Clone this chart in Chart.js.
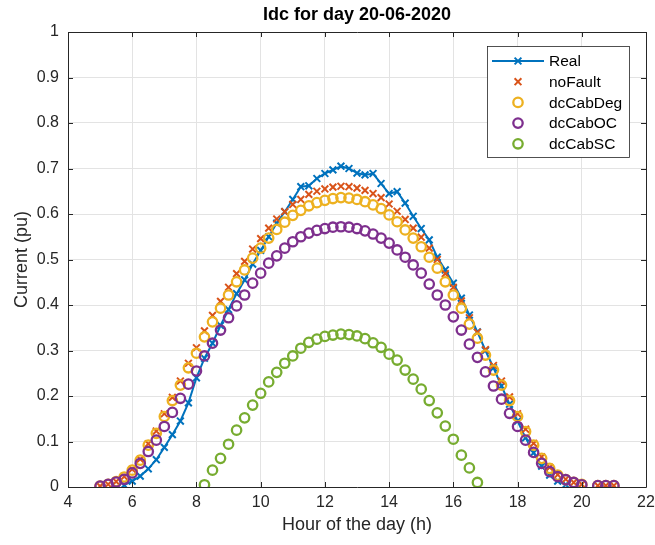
<!DOCTYPE html>
<html>
<head>
<meta charset="utf-8">
<script src="https://cdn.jsdelivr.net/npm/chart.js@4.4.0/dist/chart.umd.min.js"></script>
<style>
  html, body { margin: 0; padding: 0; background: #fff; }
  #wrap { width: 655px; height: 545px; }
</style>
</head>
<body>
<div id="wrap"><canvas id="chart" width="655" height="545"></canvas></div>
<script>
// hour of the day, 15 min steps
const hours = [
  5, 5.25, 5.5, 5.75, 6, 6.25, 6.5, 6.75, 7, 7.25, 7.5, 7.75,
  8, 8.25, 8.5, 8.75, 9, 9.25, 9.5, 9.75, 10, 10.25, 10.5, 10.75,
  11, 11.25, 11.5, 11.75, 12, 12.25, 12.5, 12.75, 13, 13.25, 13.5, 13.75,
  14, 14.25, 14.5, 14.75, 15, 15.25, 15.5, 15.75, 16, 16.25, 16.5, 16.75,
  17, 17.25, 17.5, 17.75, 18, 18.25, 18.5, 18.75, 19, 19.25, 19.5, 19.75,
  20, 20.25, 20.5, 20.75, 21
];

const real = [
  null, null, null, 0.004, 0.013, 0.024, 0.040, 0.060, 0.087, 0.115, 0.145, 0.185,
  0.240, 0.283, 0.316, 0.355, 0.390, 0.425, 0.455, 0.490, 0.520, 0.550, 0.580, 0.605,
  0.632, 0.660, 0.662, 0.678, 0.689, 0.697, 0.705, 0.700, 0.690, 0.686, 0.689, 0.667,
  0.645, 0.649, 0.624, 0.595, 0.568, 0.543, 0.505, 0.477, 0.448, 0.415, 0.378, 0.341,
  0.300, 0.262, 0.222, 0.182, 0.145, 0.108, 0.075, 0.046, 0.026, 0.013, 0.005, null,
  null, null, null, null, null
];

const noFault = [
  0.002, 0.006, 0.012, 0.023, 0.039, 0.061, 0.095, 0.123, 0.161, 0.197, 0.233, 0.272,
  0.306, 0.343, 0.377, 0.408, 0.439, 0.469, 0.496, 0.523, 0.546, 0.569, 0.589, 0.605,
  0.621, 0.632, 0.643, 0.650, 0.655, 0.659, 0.661, 0.660, 0.657, 0.652, 0.645, 0.636,
  0.622, 0.606, 0.588, 0.569, 0.549, 0.525, 0.500, 0.469, 0.439, 0.409, 0.372, 0.340,
  0.302, 0.267, 0.233, 0.198, 0.161, 0.127, 0.096, 0.066, 0.043, 0.027, 0.017, 0.010,
  0.006, null, 0.003, 0.003, 0.003
];

const dcCabDeg = [
  0.002, 0.006, 0.012, 0.022, 0.037, 0.059, 0.092, 0.118, 0.155, 0.190, 0.224, 0.262,
  0.294, 0.330, 0.363, 0.393, 0.422, 0.451, 0.477, 0.503, 0.525, 0.547, 0.566, 0.582,
  0.597, 0.608, 0.618, 0.625, 0.630, 0.634, 0.636, 0.635, 0.632, 0.627, 0.620, 0.612,
  0.598, 0.583, 0.565, 0.547, 0.528, 0.505, 0.481, 0.451, 0.422, 0.393, 0.358, 0.327,
  0.290, 0.257, 0.224, 0.190, 0.155, 0.122, 0.092, 0.063, 0.041, 0.026, 0.016, 0.010,
  0.006, null, 0.003, 0.003, 0.003
];

const dcCabOC = [
  0.002, 0.006, 0.011, 0.017, 0.031, 0.052, 0.078, 0.103, 0.133, 0.164, 0.195, 0.226,
  0.255, 0.288, 0.316, 0.345, 0.372, 0.398, 0.422, 0.448, 0.470, 0.492, 0.508, 0.525,
  0.539, 0.550, 0.558, 0.564, 0.568, 0.571, 0.572, 0.571, 0.568, 0.563, 0.556, 0.547,
  0.536, 0.521, 0.505, 0.488, 0.470, 0.446, 0.422, 0.400, 0.374, 0.345, 0.314, 0.285,
  0.253, 0.222, 0.193, 0.162, 0.133, 0.103, 0.076, 0.052, 0.034, 0.023, 0.016, 0.010,
  0.005, null, 0.003, 0.003, 0.003
];

const dcCabSC = [
  null, null, null, null, null, null, null, null, null, null, null, null,
  null, 0.005, 0.037, 0.063, 0.094, 0.125, 0.152, 0.180, 0.206, 0.231, 0.252, 0.272,
  0.288, 0.305, 0.318, 0.325, 0.331, 0.334, 0.336, 0.335, 0.332, 0.326, 0.317, 0.307,
  0.292, 0.279, 0.257, 0.237, 0.215, 0.190, 0.163, 0.134, 0.105, 0.070, 0.042, 0.010,
  null, null, null, null, null, null, null, null, null, null, null, null,
  null, null, null, null, null
];

const xTicks = [4, 6, 8, 10, 12, 14, 16, 18, 20, 22];
const yTicks = [0, 0.1, 0.2, 0.3, 0.4, 0.5, 0.6, 0.7, 0.8, 0.9, 1];

const titleText = 'Idc for day 20-06-2020';
const xLabel = 'Hour of the day (h)';
const yLabel = 'Current (pu)';

const INK = '#262626';
const GRID = '#e3e3e3';
const FONT = '"Liberation Sans", Arial, Helvetica, sans-serif';
const COLORS = {
  real: '#0072BD',
  noFault: '#D95319',
  deg: '#EDB120',
  oc: '#7E2F8E',
  sc: '#77AC30'
};

function toPoints(values) {
  return hours.map((h, i) => ({ x: h, y: values[i] }));
}

function markerSet(label, values, color, style, order) {
  return {
    label,
    data: toPoints(values),
    showLine: false,
    pointStyle: style,
    pointRadius: style === 'circle' ? 4.7 : 4.8,
    pointBorderWidth: style === 'circle' ? 2.3 : 2,
    pointBorderColor: color,
    pointBackgroundColor: 'rgba(0,0,0,0)',
    borderColor: color,
    backgroundColor: 'rgba(0,0,0,0)',
    order
  };
}

// axes box, inward ticks, title and legend in MATLAB style
const matlabLook = {
  id: 'matlabLook',
  afterDraw(chart) {
    const { ctx, chartArea: a, scales } = chart;
    ctx.save();

    ctx.strokeStyle = INK;
    ctx.lineWidth = 1;
    ctx.beginPath();
    ctx.rect(Math.round(a.left) + 0.5, Math.round(a.top) + 0.5,
             Math.round(a.right - a.left), Math.round(a.bottom - a.top));
    ctx.stroke();

    const tl = 5;
    ctx.beginPath();
    xTicks.forEach(v => {
      const px = Math.round(scales.x.getPixelForValue(v)) + 0.5;
      ctx.moveTo(px, a.bottom); ctx.lineTo(px, a.bottom - tl);
      ctx.moveTo(px, a.top); ctx.lineTo(px, a.top + tl);
    });
    yTicks.forEach(v => {
      const py = Math.round(scales.y.getPixelForValue(v)) + 0.5;
      ctx.moveTo(a.left, py); ctx.lineTo(a.left + tl, py);
      ctx.moveTo(a.right, py); ctx.lineTo(a.right - tl, py);
    });
    ctx.stroke();

    // title
    ctx.fillStyle = '#000';
    ctx.font = 'bold 18px ' + FONT;
    ctx.textAlign = 'center';
    ctx.textBaseline = 'middle';
    ctx.fillText(titleText, (a.left + a.right) / 2, 15);

    // legend, sized to its texts
    ctx.font = '15.5px ' + FONT;
    const textX = 549;
    const maxW = Math.max(...chart.data.datasets.map(d => ctx.measureText(d.label).width));
    const lx = 487.5, ly = 46.5, lh = 111;
    const lw = Math.round(textX + maxW + 7 - lx);
    ctx.fillStyle = '#fff';
    ctx.fillRect(lx, ly, lw, lh);
    ctx.strokeStyle = INK;
    ctx.lineWidth = 0.8;
    ctx.strokeRect(lx, ly, lw, lh);

    ctx.textAlign = 'left';
    ctx.fillStyle = '#000';
    const mx = 518;
    chart.data.datasets.forEach((ds, i) => {
      const y = 61 + i * 20.7;
      ctx.strokeStyle = ds.pointBorderColor;
      if (ds.showLine) {
        ctx.lineWidth = 2;
        ctx.beginPath();
        ctx.moveTo(492, y); ctx.lineTo(544, y);
        ctx.stroke();
      }
      ctx.lineWidth = ds.pointBorderWidth;
      ctx.beginPath();
      if (ds.pointStyle === 'circle') {
        ctx.arc(mx, y, ds.pointRadius, 0, Math.PI * 2);
      } else {
        const d = ds.pointRadius * 0.707;
        ctx.moveTo(mx - d, y - d); ctx.lineTo(mx + d, y + d);
        ctx.moveTo(mx - d, y + d); ctx.lineTo(mx + d, y - d);
      }
      ctx.stroke();
      ctx.fillText(ds.label, textX, y + 1);
    });

    ctx.restore();
  }
};

new Chart(document.getElementById('chart'), {
  type: 'scatter',
  data: {
    datasets: [
      {
        label: 'Real',
        data: toPoints(real),
        showLine: true,
        borderColor: COLORS.real,
        borderWidth: 2,
        tension: 0,
        pointStyle: 'crossRot',
        pointRadius: 4.8,
        pointBorderWidth: 2,
        pointBorderColor: COLORS.real,
        pointBackgroundColor: COLORS.real,
        backgroundColor: COLORS.real,
        order: 5
      },
      markerSet('noFault', noFault, COLORS.noFault, 'crossRot', 4),
      markerSet('dcCabDeg', dcCabDeg, COLORS.deg, 'circle', 3),
      markerSet('dcCabOC', dcCabOC, COLORS.oc, 'circle', 2),
      markerSet('dcCabSC', dcCabSC, COLORS.sc, 'circle', 1)
    ]
  },
  options: {
    responsive: false,
    animation: false,
    layout: { padding: { top: 32, right: 9, left: 0, bottom: 0 } },
    plugins: {
      legend: { display: false },
      tooltip: { enabled: false },
      title: { display: false }
    },
    scales: {
      x: {
        type: 'linear',
        min: 4,
        max: 22,
        afterBuildTicks: s => { s.ticks = xTicks.map(v => ({ value: v })); },
        afterFit: s => { s.height = 58; s.paddingLeft = 0; s.paddingRight = 0; },
        grid: { color: GRID, drawTicks: false },
        border: { display: false },
        ticks: { color: INK, font: { family: FONT, size: 16 }, padding: 6, maxRotation: 0 },
        title: {
          display: true,
          text: xLabel,
          color: INK,
          font: { family: FONT, size: 18 },
          padding: { top: 9, bottom: 9 }
        }
      },
      y: {
        type: 'linear',
        min: 0,
        max: 1,
        afterBuildTicks: s => { s.ticks = yTicks.map(v => ({ value: v })); },
        afterFit: s => { s.width = 68; s.paddingTop = 0; s.paddingBottom = 0; },
        grid: { color: GRID, drawTicks: false },
        border: { display: false },
        ticks: {
          color: INK,
          font: { family: FONT, size: 16 },
          padding: 9,
          callback: v => String(Number(v.toFixed(2)))
        },
        title: {
          display: true,
          text: yLabel,
          color: INK,
          font: { family: FONT, size: 18 },
          padding: { top: 11, bottom: 11 }
        }
      }
    }
  },
  plugins: [matlabLook]
});
</script>
</body>
</html>
